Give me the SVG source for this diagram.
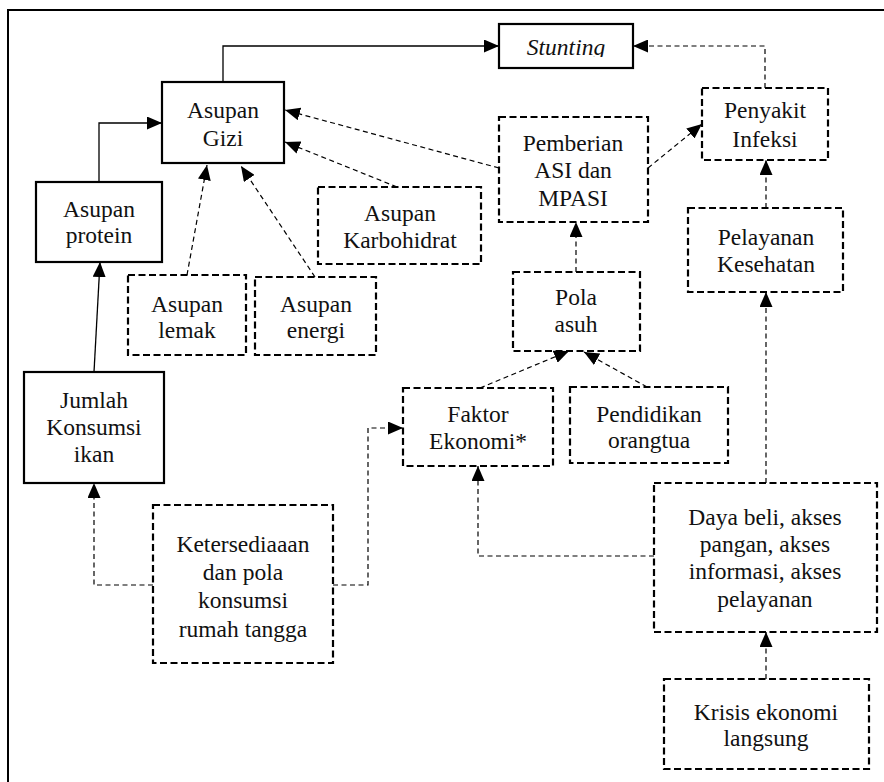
<svg xmlns="http://www.w3.org/2000/svg" width="884" height="782" viewBox="0 0 884 782">
<style>
.frame{fill:none;stroke:#000;stroke-width:2}
.solid{fill:#fff;stroke:#000;stroke-width:2.2}
.dash{fill:#fff;stroke:#000;stroke-width:2.2;stroke-dasharray:7 3.5}
.t text{font-family:'Liberation Serif','DejaVu Serif',serif;font-size:23.5px;fill:#111;text-anchor:middle}
.cs{fill:none;stroke:#000;stroke-width:1.3}
.cd{fill:none;stroke:#000;stroke-width:1.2;stroke-dasharray:5 3.5}
</style>
<defs>
<marker id="ah" markerWidth="15" markerHeight="13" refX="15" refY="6.5" orient="auto" markerUnits="userSpaceOnUse">
<path d="M0,0 L15,6.5 L0,13 z" fill="#000" stroke="none"/>
</marker>
<clipPath id="stclip"><rect x="499" y="24" width="134" height="33"/></clipPath>
</defs>
<rect width="884" height="782" fill="#fff"/>
<path class="frame" d="M8,782 V10 H884"/>

<g class="t" font-family="Liberation Serif, serif">
<g id="stunting"><rect class="solid" x="499" y="24" width="134" height="44"/><text x="566" y="55" font-style="italic" clip-path="url(#stclip)">Stunting</text></g>
<g id="asupan-gizi"><rect class="solid" x="162" y="82" width="122" height="81"/><text x="223" y="118">Asupan</text><text x="223" y="146">Gizi</text></g>
<g id="asupan-protein"><rect class="solid" x="36" y="182" width="126" height="80"/><text x="99" y="217">Asupan</text><text x="99" y="243">protein</text></g>
<g id="asupan-lemak"><rect class="dash" x="128" y="275" width="118" height="80"/><text x="187" y="312">Asupan</text><text x="187" y="338">lemak</text></g>
<g id="asupan-energi"><rect class="dash" x="255" y="277" width="121" height="78"/><text x="316" y="312">Asupan</text><text x="316" y="338">energi</text></g>
<g id="asupan-karbohidrat"><rect class="dash" x="318" y="187" width="163" height="77"/><text x="400" y="221">Asupan</text><text x="400" y="248">Karbohidrat</text></g>
<g id="pemberian-asi"><rect class="dash" x="499" y="117" width="149" height="105"/><text x="573" y="151">Pemberian</text><text x="573" y="178">ASI dan</text><text x="573" y="206">MPASI</text></g>
<g id="penyakit-infeksi"><rect class="dash" x="702" y="88" width="126" height="72"/><text x="765" y="118">Penyakit</text><text x="765" y="147">Infeksi</text></g>
<g id="pelayanan-kesehatan"><rect class="dash" x="688" y="208" width="155" height="84"/><text x="766" y="245">Pelayanan</text><text x="766" y="272">Kesehatan</text></g>
<g id="pola-asuh"><rect class="dash" x="513" y="272" width="127" height="79"/><text x="576" y="305">Pola</text><text x="576" y="332">asuh</text></g>
<g id="faktor-ekonomi"><rect class="dash" x="403" y="388" width="150" height="78"/><text x="478" y="422">Faktor</text><text x="478" y="449">Ekonomi*</text></g>
<g id="pendidikan-orangtua"><rect class="dash" x="570" y="387" width="158" height="76"/><text x="649" y="422">Pendidikan</text><text x="649" y="448">orangtua</text></g>
<g id="jumlah-konsumsi-ikan"><rect class="solid" x="24" y="372" width="140" height="111"/><text x="94" y="408">Jumlah</text><text x="94" y="435">Konsumsi</text><text x="94" y="462">ikan</text></g>
<g id="ketersediaan"><rect class="dash" x="153" y="505" width="180" height="158"/><text x="243" y="552">Ketersediaaan</text><text x="243" y="580">dan pola</text><text x="243" y="608">konsumsi</text><text x="243" y="637">rumah tangga</text></g>
<g id="daya-beli"><rect class="dash" x="654" y="483" width="223" height="149"/><text x="765" y="525">Daya beli, akses</text><text x="765" y="552">pangan, akses</text><text x="765" y="579">informasi, akses</text><text x="765" y="607">pelayanan</text></g>
<g id="krisis-ekonomi"><rect class="dash" x="664" y="679" width="205" height="90"/><text x="766" y="720">Krisis ekonomi</text><text x="766" y="746">langsung</text></g>
</g>

<g id="connectors">
<path class="cs" d="M223,82 V46 H499" marker-end="url(#ah)"/>
<path class="cs" d="M99,182 V123 H162" marker-end="url(#ah)"/>
<path class="cs" d="M94,372 L100,262" marker-end="url(#ah)"/>
<path class="cd" d="M187,275 L207,165" marker-end="url(#ah)"/>
<path class="cd" d="M315,277 L241,166" marker-end="url(#ah)"/>
<path class="cd" d="M397,187 L285,142" marker-end="url(#ah)"/>
<path class="cd" d="M499,168 L285,110" marker-end="url(#ah)"/>
<path class="cd" d="M648,168 L702,124" marker-end="url(#ah)"/>
<path class="cd" d="M765,88 V46 H633" marker-end="url(#ah)"/>
<path class="cd" d="M766,208 V160" marker-end="url(#ah)"/>
<path class="cd" d="M576,272 V222" marker-end="url(#ah)"/>
<path class="cd" d="M480,388 L569,351" marker-end="url(#ah)"/>
<path class="cd" d="M647,387 L584,352" marker-end="url(#ah)"/>
<path class="cd" d="M766,483 V292" marker-end="url(#ah)"/>
<path class="cd" d="M654,556 H478 V466" marker-end="url(#ah)"/>
<path class="cd" d="M766,679 V632" marker-end="url(#ah)"/>
<path class="cd" d="M153,585 H94 V483" marker-end="url(#ah)"/>
<path class="cd" d="M333,585 H368 V428 H403" marker-end="url(#ah)"/>
</g>
</svg>
